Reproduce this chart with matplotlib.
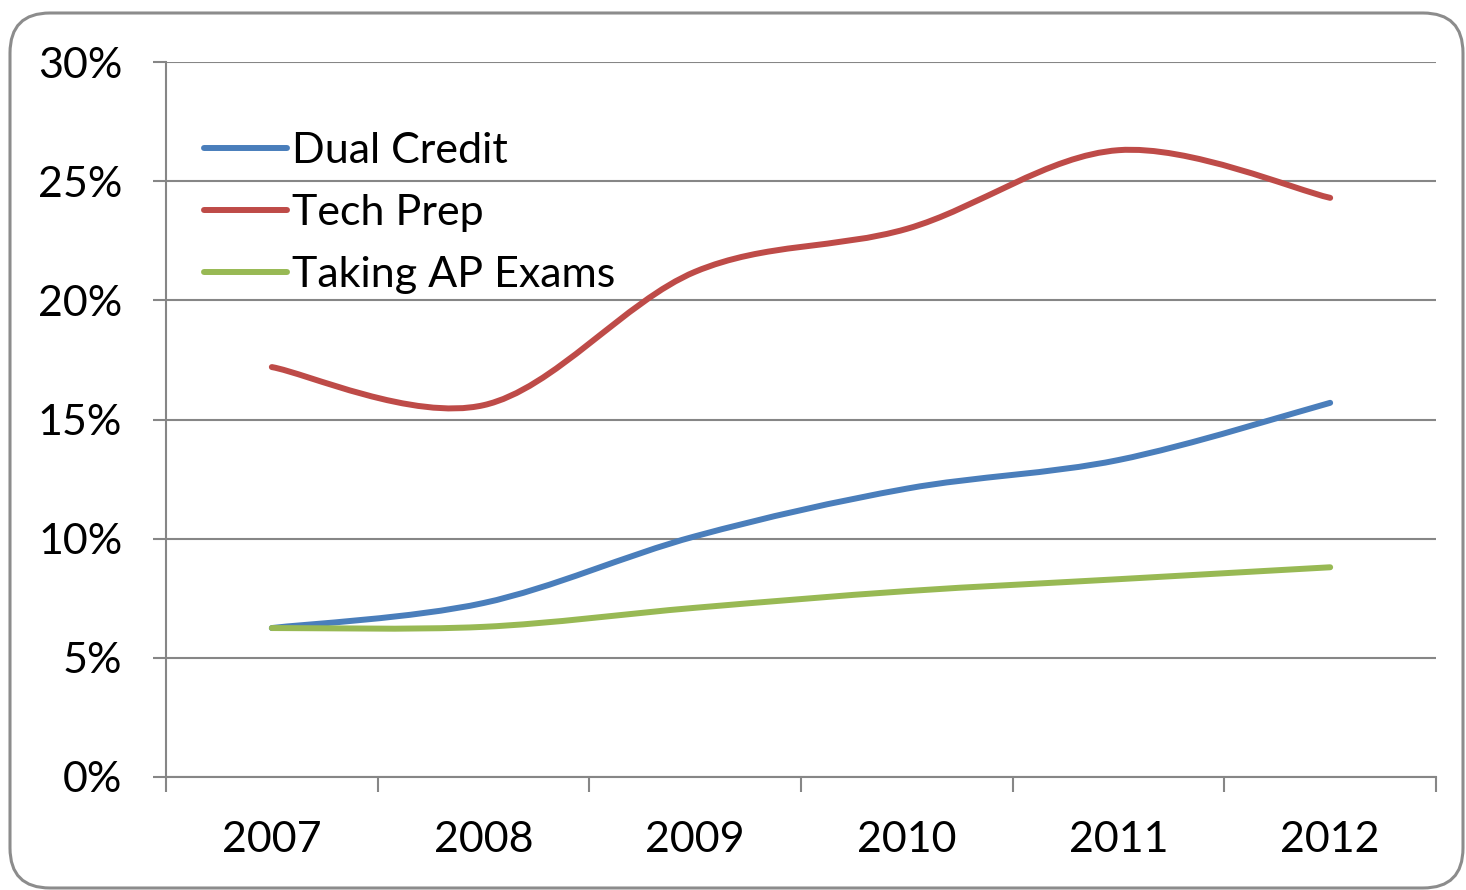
import numpy as np
import matplotlib
matplotlib.use("Agg")
from matplotlib import pyplot as plt
from matplotlib.path import Path
from matplotlib.patches import PathPatch, FancyBboxPatch
from matplotlib.lines import Line2D
from matplotlib.transforms import IdentityTransform

years = ["2007", "2008", "2009", "2010", "2011", "2012"]
dual_credit = [6.25, 7.3, 10.1, 12.1, 13.3, 15.7]
tech_prep = [17.2, 15.6, 21.2, 23.0, 26.3, 24.3]
taking_ap = [6.25, 6.3, 7.1, 7.8, 8.3, 8.8]

series = [("Dual Credit", dual_credit, "#4A7EBB"),
          ("Tech Prep", tech_prep, "#BE4B48"),
          ("Taking AP Exams", taking_ap, "#98B954")]

plt.rcParams['font.family'] = ['Lato', 'DejaVu Sans']
grid_col = "#868686"
fs = 31


def smooth_path(xs, ys):
    # excel-style smoothed line: cubic bezier through the points
    p = np.column_stack([xs, ys]).astype(float)
    n = len(p)
    verts = [p[0]]
    codes = [Path.MOVETO]
    for i in range(n - 1):
        p0 = p[i - 1] if i > 0 else p[i]
        p3 = p[i + 2] if i + 2 < n else p[i + 1]
        c1 = p[i] + (p[i + 1] - p0) / 6
        c2 = p[i + 1] - (p3 - p[i]) / 6
        verts += [c1, c2, p[i + 1]]
        codes += [Path.CURVE4] * 3
    return Path(verts, codes)


fig = plt.figure(figsize=(14.66, 8.9), dpi=100)
ax = fig.add_axes([166 / 1466, 1 - 777 / 890, 1270 / 1466, 715 / 890])

x = np.arange(len(years))
handles = []
for name, vals, col in series:
    patch = PathPatch(smooth_path(x, vals), facecolor="none", edgecolor=col,
                      lw=4.3, capstyle="round", joinstyle="round", zorder=3)
    ax.add_patch(patch)
    handles.append(Line2D([], [], color=col, lw=4.3, solid_capstyle="round", label=name))

ax.set_xlim(-0.5, len(years) - 0.5)
ax.set_ylim(0, 30)
ax.set_yticks(np.arange(0, 31, 5))
ax.set_yticklabels([f"{v}%" for v in range(0, 31, 5)], fontsize=fs)
ax.grid(axis="y", color=grid_col, lw=1.5)
ax.set_axisbelow(True)

ax.set_xticks(x)
ax.set_xticklabels(years, fontsize=fs)
ax.set_xticks(np.arange(-0.5, len(years)), minor=True)
ax.tick_params(axis="x", which="major", length=0, pad=32)
ax.tick_params(axis="x", which="minor", length=11, width=1.5, color=grid_col, direction="out")
ax.tick_params(axis="y", length=9.5, width=1.5, color=grid_col, pad=22)

for s in ["top", "right"]:
    ax.spines[s].set_visible(False)
for s in ["left", "bottom"]:
    ax.spines[s].set_color(grid_col)
    ax.spines[s].set_linewidth(1.5)

ax.legend(handles=handles, loc="upper left", bbox_to_anchor=(0.03, 0.902),
          frameon=False, fontsize=fs, handlelength=1.93, handletextpad=0.1,
          labelspacing=0.56, borderpad=0, borderaxespad=0)

# rounded outer border, in pixel coords
border = FancyBboxPatch((10, 890 - 13 - 875), 1453, 875,
                        boxstyle="round,pad=0,rounding_size=40",
                        facecolor="none", edgecolor="#8c8c8c", lw=2.2)
border.set_transform(IdentityTransform())
fig.patches.append(border)

fig.savefig("out.png", dpi=100)
